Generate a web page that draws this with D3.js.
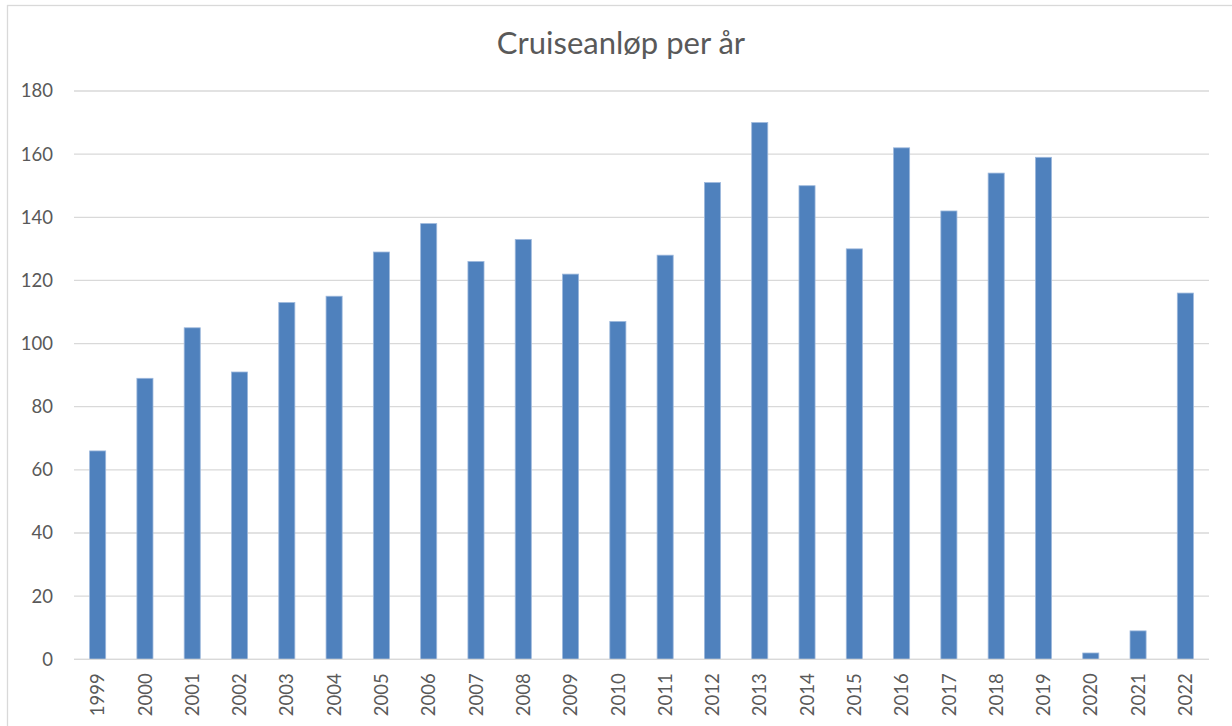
<!DOCTYPE html>
<html>
<head>
<meta charset="utf-8">
<script src="https://cdn.jsdelivr.net/npm/d3@7"></script>
<style>
  html, body { margin: 0; padding: 0; background: #ffffff; }
  svg { display: block; font-family: Lato, "Open Sans", sans-serif; }
</style>
</head>
<body>
<svg id="chart" width="1232" height="726"></svg>
<script>
const title = "Cruiseanløp per år";
const years = ["1999","2000","2001","2002","2003","2004","2005","2006","2007","2008","2009","2010","2011","2012","2013","2014","2015","2016","2017","2018","2019","2020","2021","2022"];
const calls = [66, 89, 105, 91, 113, 115, 129, 138, 126, 133, 122, 107, 128, 151, 170, 150, 130, 162, 142, 154, 159, 2, 9, 116];
const yTicks = [0, 20, 40, 60, 80, 100, 120, 140, 160, 180];

const svg = d3.select("#chart");
const W = 1232, H = 726;
const plot = { left: 74, right: 1209, top: 91, bottom: 659.3 };
const textColor = "#595959";
const gridColor = "#d9d9d9";

// chart border
svg.append("rect")
  .attr("x", 7.5).attr("y", 5.5)
  .attr("width", W + 10).attr("height", H + 10)
  .attr("fill", "#ffffff")
  .attr("stroke", gridColor).attr("stroke-width", 1.3);

const x = d3.scaleBand().domain(years).range([plot.left, plot.right]).paddingInner(0.66).paddingOuter(0.33);
const y = d3.scaleLinear().domain([0, 180]).range([plot.bottom, plot.top]);

// gridlines
svg.append("g")
  .selectAll("line")
  .data(yTicks)
  .join("line")
  .attr("x1", plot.left).attr("x2", plot.right)
  .attr("y1", d => y(d)).attr("y2", d => y(d))
  .attr("stroke", gridColor).attr("stroke-width", 1.3);

// y axis labels
const yAxis = d3.axisLeft(y).tickValues(yTicks).tickSize(0).tickPadding(0);
const gy = svg.append("g").attr("transform", `translate(53,0)`).call(yAxis);
gy.select(".domain").remove();
gy.selectAll("text")
  .attr("fill", textColor)
  .style("font-size", "18.5px")
  .style("font-family", "Lato, 'Open Sans', sans-serif");

// bars
svg.append("g")
  .selectAll("rect")
  .data(years.map((yr, i) => ({ yr, v: calls[i] })))
  .join("rect")
  .attr("x", d => x(d.yr))
  .attr("width", x.bandwidth())
  .attr("y", d => y(d.v))
  .attr("height", d => y(0) - y(d.v))
  .attr("fill", "#4F81BD")
  .attr("stroke", "#9db8dc")
  .attr("stroke-width", 0.8);

// x axis baseline
svg.append("line")
  .attr("x1", plot.left).attr("x2", plot.right)
  .attr("y1", y(0)).attr("y2", y(0))
  .attr("stroke", gridColor).attr("stroke-width", 1.3);

// x axis labels (rotated)
const xAxis = d3.axisBottom(x).tickSize(0).tickPadding(0);
const gx = svg.append("g").attr("transform", `translate(0,${plot.bottom})`).call(xAxis);
gx.select(".domain").remove();
gx.selectAll("text")
  .attr("fill", textColor)
  .style("font-size", "18.5px")
  .style("font-family", "Lato, 'Open Sans', sans-serif")
  .attr("text-anchor", "end")
  .attr("transform", "rotate(-90)")
  .attr("x", -14)
  .attr("y", 0)
  .attr("dy", "0.36em");

// title
svg.append("text")
  .attr("x", 621).attr("y", 54)
  .attr("text-anchor", "middle")
  .attr("fill", textColor)
  .style("font-size", "31px")
  .text(title);
</script>
</body>
</html>
